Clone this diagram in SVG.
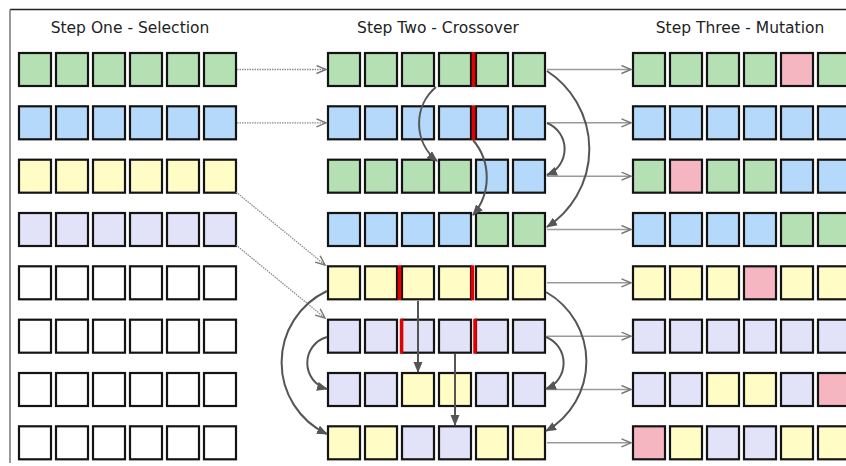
<svg xmlns="http://www.w3.org/2000/svg" width="846" height="466" viewBox="0 0 846 466">
  <style>
    .cell { stroke: #141414; stroke-width: 2.2; }
    .g { fill: #b5e0b4; }
    .b { fill: #b4d9fb; }
    .y { fill: #fffcc6; }
    .l { fill: #e2e2f8; }
    .p { fill: #f5b6c1; }
    .w { fill: #ffffff; }
    .cut { stroke: #e30000; stroke-width: 3.5; }
    .title { font-family: "DejaVu Sans", "Liberation Sans", sans-serif; font-size: 15.5px; fill: #222; text-anchor: middle; }
    .sel { fill: none; stroke: #8c8c8c; stroke-width: 1.3; stroke-dasharray: 1.5 1; }
    .copy { fill: none; stroke: #9a9a9a; stroke-width: 1.6; }
    .swap { fill: none; stroke: #555; stroke-width: 2; }
  </style>
  <defs>
    <marker id="open" markerUnits="userSpaceOnUse" markerWidth="12" markerHeight="10" refX="10" refY="4.5" orient="auto">
      <path d="M0.5,0.5 L10,4.5 L0.5,8.5" fill="none" stroke="#777" stroke-width="1.4"/>
    </marker>
    <marker id="solid" markerUnits="userSpaceOnUse" markerWidth="12" markerHeight="10" refX="10" refY="4.5" orient="auto">
      <path d="M0,0 L11,4.5 L0,9 Z" fill="#555"/>
    </marker>
  </defs>

  <rect width="846" height="466" fill="#ffffff"/>
  <!-- frame -->
  <line x1="10" y1="9.5" x2="846" y2="9.5" stroke="#222" stroke-width="1.5"/>
  <line x1="10" y1="9.5" x2="10" y2="463" stroke="#777" stroke-width="1.5"/>

  <!-- column titles -->
  <text class="title" x="130" y="33">Step One - Selection</text>
  <text class="title" x="438" y="33">Step Two - Crossover</text>
  <text class="title" x="740" y="33">Step Three - Mutation</text>

  <!-- Step One: selection -->
  <g id="sel-0" transform="translate(18,52)">
    <rect class="cell g" x="1" y="1" width="32" height="33"/><rect class="cell g" x="38" y="1" width="32" height="33"/><rect class="cell g" x="75" y="1" width="32" height="33"/><rect class="cell g" x="112" y="1" width="32" height="33"/><rect class="cell g" x="149" y="1" width="32" height="33"/><rect class="cell g" x="186" y="1" width="32" height="33"/>
  </g>
  <g id="sel-1" transform="translate(18,105.3)">
    <rect class="cell b" x="1" y="1" width="32" height="33"/><rect class="cell b" x="38" y="1" width="32" height="33"/><rect class="cell b" x="75" y="1" width="32" height="33"/><rect class="cell b" x="112" y="1" width="32" height="33"/><rect class="cell b" x="149" y="1" width="32" height="33"/><rect class="cell b" x="186" y="1" width="32" height="33"/>
  </g>
  <g id="sel-2" transform="translate(18,158.7)">
    <rect class="cell y" x="1" y="1" width="32" height="33"/><rect class="cell y" x="38" y="1" width="32" height="33"/><rect class="cell y" x="75" y="1" width="32" height="33"/><rect class="cell y" x="112" y="1" width="32" height="33"/><rect class="cell y" x="149" y="1" width="32" height="33"/><rect class="cell y" x="186" y="1" width="32" height="33"/>
  </g>
  <g id="sel-3" transform="translate(18,212)">
    <rect class="cell l" x="1" y="1" width="32" height="33"/><rect class="cell l" x="38" y="1" width="32" height="33"/><rect class="cell l" x="75" y="1" width="32" height="33"/><rect class="cell l" x="112" y="1" width="32" height="33"/><rect class="cell l" x="149" y="1" width="32" height="33"/><rect class="cell l" x="186" y="1" width="32" height="33"/>
  </g>
  <g id="sel-4" transform="translate(18,265.3)">
    <rect class="cell w" x="1" y="1" width="32" height="33"/><rect class="cell w" x="38" y="1" width="32" height="33"/><rect class="cell w" x="75" y="1" width="32" height="33"/><rect class="cell w" x="112" y="1" width="32" height="33"/><rect class="cell w" x="149" y="1" width="32" height="33"/><rect class="cell w" x="186" y="1" width="32" height="33"/>
  </g>
  <g id="sel-5" transform="translate(18,318.7)">
    <rect class="cell w" x="1" y="1" width="32" height="33"/><rect class="cell w" x="38" y="1" width="32" height="33"/><rect class="cell w" x="75" y="1" width="32" height="33"/><rect class="cell w" x="112" y="1" width="32" height="33"/><rect class="cell w" x="149" y="1" width="32" height="33"/><rect class="cell w" x="186" y="1" width="32" height="33"/>
  </g>
  <g id="sel-6" transform="translate(18,372)">
    <rect class="cell w" x="1" y="1" width="32" height="33"/><rect class="cell w" x="38" y="1" width="32" height="33"/><rect class="cell w" x="75" y="1" width="32" height="33"/><rect class="cell w" x="112" y="1" width="32" height="33"/><rect class="cell w" x="149" y="1" width="32" height="33"/><rect class="cell w" x="186" y="1" width="32" height="33"/>
  </g>
  <g id="sel-7" transform="translate(18,425.3)">
    <rect class="cell w" x="1" y="1" width="32" height="33"/><rect class="cell w" x="38" y="1" width="32" height="33"/><rect class="cell w" x="75" y="1" width="32" height="33"/><rect class="cell w" x="112" y="1" width="32" height="33"/><rect class="cell w" x="149" y="1" width="32" height="33"/><rect class="cell w" x="186" y="1" width="32" height="33"/>
  </g>

  <!-- Step Two: crossover -->
  <g id="cross-0" transform="translate(327,52)">
    <rect class="cell g" x="1" y="1" width="32" height="33"/><rect class="cell g" x="38" y="1" width="32" height="33"/><rect class="cell g" x="75" y="1" width="32" height="33"/><rect class="cell g" x="112" y="1" width="32" height="33"/><rect class="cell g" x="149" y="1" width="32" height="33"/><rect class="cell g" x="186" y="1" width="32" height="33"/>
    <line class="cut" x1="146.5" y1="0" x2="146.5" y2="35"/>
  </g>
  <g id="cross-1" transform="translate(327,105.3)">
    <rect class="cell b" x="1" y="1" width="32" height="33"/><rect class="cell b" x="38" y="1" width="32" height="33"/><rect class="cell b" x="75" y="1" width="32" height="33"/><rect class="cell b" x="112" y="1" width="32" height="33"/><rect class="cell b" x="149" y="1" width="32" height="33"/><rect class="cell b" x="186" y="1" width="32" height="33"/>
    <line class="cut" x1="146.5" y1="0" x2="146.5" y2="35"/>
  </g>
  <g id="cross-2" transform="translate(327,158.7)">
    <rect class="cell g" x="1" y="1" width="32" height="33"/><rect class="cell g" x="38" y="1" width="32" height="33"/><rect class="cell g" x="75" y="1" width="32" height="33"/><rect class="cell g" x="112" y="1" width="32" height="33"/><rect class="cell b" x="149" y="1" width="32" height="33"/><rect class="cell b" x="186" y="1" width="32" height="33"/>
  </g>
  <g id="cross-3" transform="translate(327,212)">
    <rect class="cell b" x="1" y="1" width="32" height="33"/><rect class="cell b" x="38" y="1" width="32" height="33"/><rect class="cell b" x="75" y="1" width="32" height="33"/><rect class="cell b" x="112" y="1" width="32" height="33"/><rect class="cell g" x="149" y="1" width="32" height="33"/><rect class="cell g" x="186" y="1" width="32" height="33"/>
  </g>
  <g id="cross-4" transform="translate(327,265.3)">
    <rect class="cell y" x="1" y="1" width="32" height="33"/><rect class="cell y" x="38" y="1" width="32" height="33"/><rect class="cell y" x="75" y="1" width="32" height="33"/><rect class="cell y" x="112" y="1" width="32" height="33"/><rect class="cell y" x="149" y="1" width="32" height="33"/><rect class="cell y" x="186" y="1" width="32" height="33"/>
    <line class="cut" x1="72.5" y1="0" x2="72.5" y2="35"/>
    <line class="cut" x1="145.5" y1="0" x2="145.5" y2="35"/>
  </g>
  <g id="cross-5" transform="translate(327,318.7)">
    <rect class="cell l" x="1" y="1" width="32" height="33"/><rect class="cell l" x="38" y="1" width="32" height="33"/><rect class="cell l" x="75" y="1" width="32" height="33"/><rect class="cell l" x="112" y="1" width="32" height="33"/><rect class="cell l" x="149" y="1" width="32" height="33"/><rect class="cell l" x="186" y="1" width="32" height="33"/>
    <line class="cut" x1="74.5" y1="0" x2="74.5" y2="35"/>
    <line class="cut" x1="148" y1="0" x2="148" y2="35"/>
  </g>
  <g id="cross-6" transform="translate(327,372)">
    <rect class="cell l" x="1" y="1" width="32" height="33"/><rect class="cell l" x="38" y="1" width="32" height="33"/><rect class="cell y" x="75" y="1" width="32" height="33"/><rect class="cell y" x="112" y="1" width="32" height="33"/><rect class="cell l" x="149" y="1" width="32" height="33"/><rect class="cell l" x="186" y="1" width="32" height="33"/>
  </g>
  <g id="cross-7" transform="translate(327,425.3)">
    <rect class="cell y" x="1" y="1" width="32" height="33"/><rect class="cell y" x="38" y="1" width="32" height="33"/><rect class="cell l" x="75" y="1" width="32" height="33"/><rect class="cell l" x="112" y="1" width="32" height="33"/><rect class="cell y" x="149" y="1" width="32" height="33"/><rect class="cell y" x="186" y="1" width="32" height="33"/>
  </g>

  <!-- Step Three: mutation -->
  <g id="mut-0" transform="translate(632,52)">
    <rect class="cell g" x="1" y="1" width="32" height="33"/><rect class="cell g" x="38" y="1" width="32" height="33"/><rect class="cell g" x="75" y="1" width="32" height="33"/><rect class="cell g" x="112" y="1" width="32" height="33"/><rect class="cell p" x="149" y="1" width="32" height="33"/><rect class="cell g" x="186" y="1" width="32" height="33"/>
  </g>
  <g id="mut-1" transform="translate(632,105.3)">
    <rect class="cell b" x="1" y="1" width="32" height="33"/><rect class="cell b" x="38" y="1" width="32" height="33"/><rect class="cell b" x="75" y="1" width="32" height="33"/><rect class="cell b" x="112" y="1" width="32" height="33"/><rect class="cell b" x="149" y="1" width="32" height="33"/><rect class="cell b" x="186" y="1" width="32" height="33"/>
  </g>
  <g id="mut-2" transform="translate(632,158.7)">
    <rect class="cell g" x="1" y="1" width="32" height="33"/><rect class="cell p" x="38" y="1" width="32" height="33"/><rect class="cell g" x="75" y="1" width="32" height="33"/><rect class="cell g" x="112" y="1" width="32" height="33"/><rect class="cell b" x="149" y="1" width="32" height="33"/><rect class="cell b" x="186" y="1" width="32" height="33"/>
  </g>
  <g id="mut-3" transform="translate(632,212)">
    <rect class="cell b" x="1" y="1" width="32" height="33"/><rect class="cell b" x="38" y="1" width="32" height="33"/><rect class="cell b" x="75" y="1" width="32" height="33"/><rect class="cell b" x="112" y="1" width="32" height="33"/><rect class="cell g" x="149" y="1" width="32" height="33"/><rect class="cell g" x="186" y="1" width="32" height="33"/>
  </g>
  <g id="mut-4" transform="translate(632,265.3)">
    <rect class="cell y" x="1" y="1" width="32" height="33"/><rect class="cell y" x="38" y="1" width="32" height="33"/><rect class="cell y" x="75" y="1" width="32" height="33"/><rect class="cell p" x="112" y="1" width="32" height="33"/><rect class="cell y" x="149" y="1" width="32" height="33"/><rect class="cell y" x="186" y="1" width="32" height="33"/>
  </g>
  <g id="mut-5" transform="translate(632,318.7)">
    <rect class="cell l" x="1" y="1" width="32" height="33"/><rect class="cell l" x="38" y="1" width="32" height="33"/><rect class="cell l" x="75" y="1" width="32" height="33"/><rect class="cell l" x="112" y="1" width="32" height="33"/><rect class="cell l" x="149" y="1" width="32" height="33"/><rect class="cell l" x="186" y="1" width="32" height="33"/>
  </g>
  <g id="mut-6" transform="translate(632,372)">
    <rect class="cell l" x="1" y="1" width="32" height="33"/><rect class="cell l" x="38" y="1" width="32" height="33"/><rect class="cell y" x="75" y="1" width="32" height="33"/><rect class="cell y" x="112" y="1" width="32" height="33"/><rect class="cell l" x="149" y="1" width="32" height="33"/><rect class="cell p" x="186" y="1" width="32" height="33"/>
  </g>
  <g id="mut-7" transform="translate(632,425.3)">
    <rect class="cell p" x="1" y="1" width="32" height="33"/><rect class="cell y" x="38" y="1" width="32" height="33"/><rect class="cell l" x="75" y="1" width="32" height="33"/><rect class="cell l" x="112" y="1" width="32" height="33"/><rect class="cell y" x="149" y="1" width="32" height="33"/><rect class="cell y" x="186" y="1" width="32" height="33"/>
  </g>

  <!-- connectors, drawn above the cells -->
  <g id="connectors">
    <!-- selection -->
    <path class="sel" d="M237,69.5 H326" marker-end="url(#open)"/>
    <path class="sel" d="M237,122.8 H326" marker-end="url(#open)"/>
    <path class="sel" d="M236,192 L325,265" marker-end="url(#open)"/>
    <path class="sel" d="M236,245 L325,318" marker-end="url(#open)"/>
    <!-- pass to mutation -->
    <path class="copy" d="M547,69.5 H631" marker-end="url(#open)"/>
    <path class="copy" d="M547,122.8 H631" marker-end="url(#open)"/>
    <path class="copy" d="M547,176.2 H631" marker-end="url(#open)"/>
    <path class="copy" d="M547,229.5 H631" marker-end="url(#open)"/>
    <path class="copy" d="M547,282.8 H631" marker-end="url(#open)"/>
    <path class="copy" d="M547,336.2 H631" marker-end="url(#open)"/>
    <path class="copy" d="M547,389.5 H631" marker-end="url(#open)"/>
    <path class="copy" d="M547,442.8 H631" marker-end="url(#open)"/>
    <!-- crossover swaps -->
    <path class="swap" d="M436,87 A48,48 0 0 0 437,161" marker-end="url(#solid)"/>
    <path class="swap" d="M473,140 A58,58 0 0 1 473,215" marker-end="url(#solid)"/>
    <path class="swap" d="M547,71 A93,93 0 0 1 547,227" marker-end="url(#solid)"/>
    <path class="swap" d="M547,123 A28,28 0 0 1 547,175" marker-end="url(#solid)"/>
    <path class="swap" d="M327,291 A79,79 0 0 0 327,434" marker-end="url(#solid)"/>
    <path class="swap" d="M327,337 A27,27 0 0 0 327,389" marker-end="url(#solid)"/>
    <path class="swap" d="M546,292 A80,80 0 0 1 546,431" marker-end="url(#solid)"/>
    <path class="swap" d="M546,337 A28,28 0 0 1 546,389" marker-end="url(#solid)"/>
    <path class="swap" d="M418,301 V372" marker-end="url(#solid)"/>
    <path class="swap" d="M455,354 V425" marker-end="url(#solid)"/>
  </g>
</svg>
